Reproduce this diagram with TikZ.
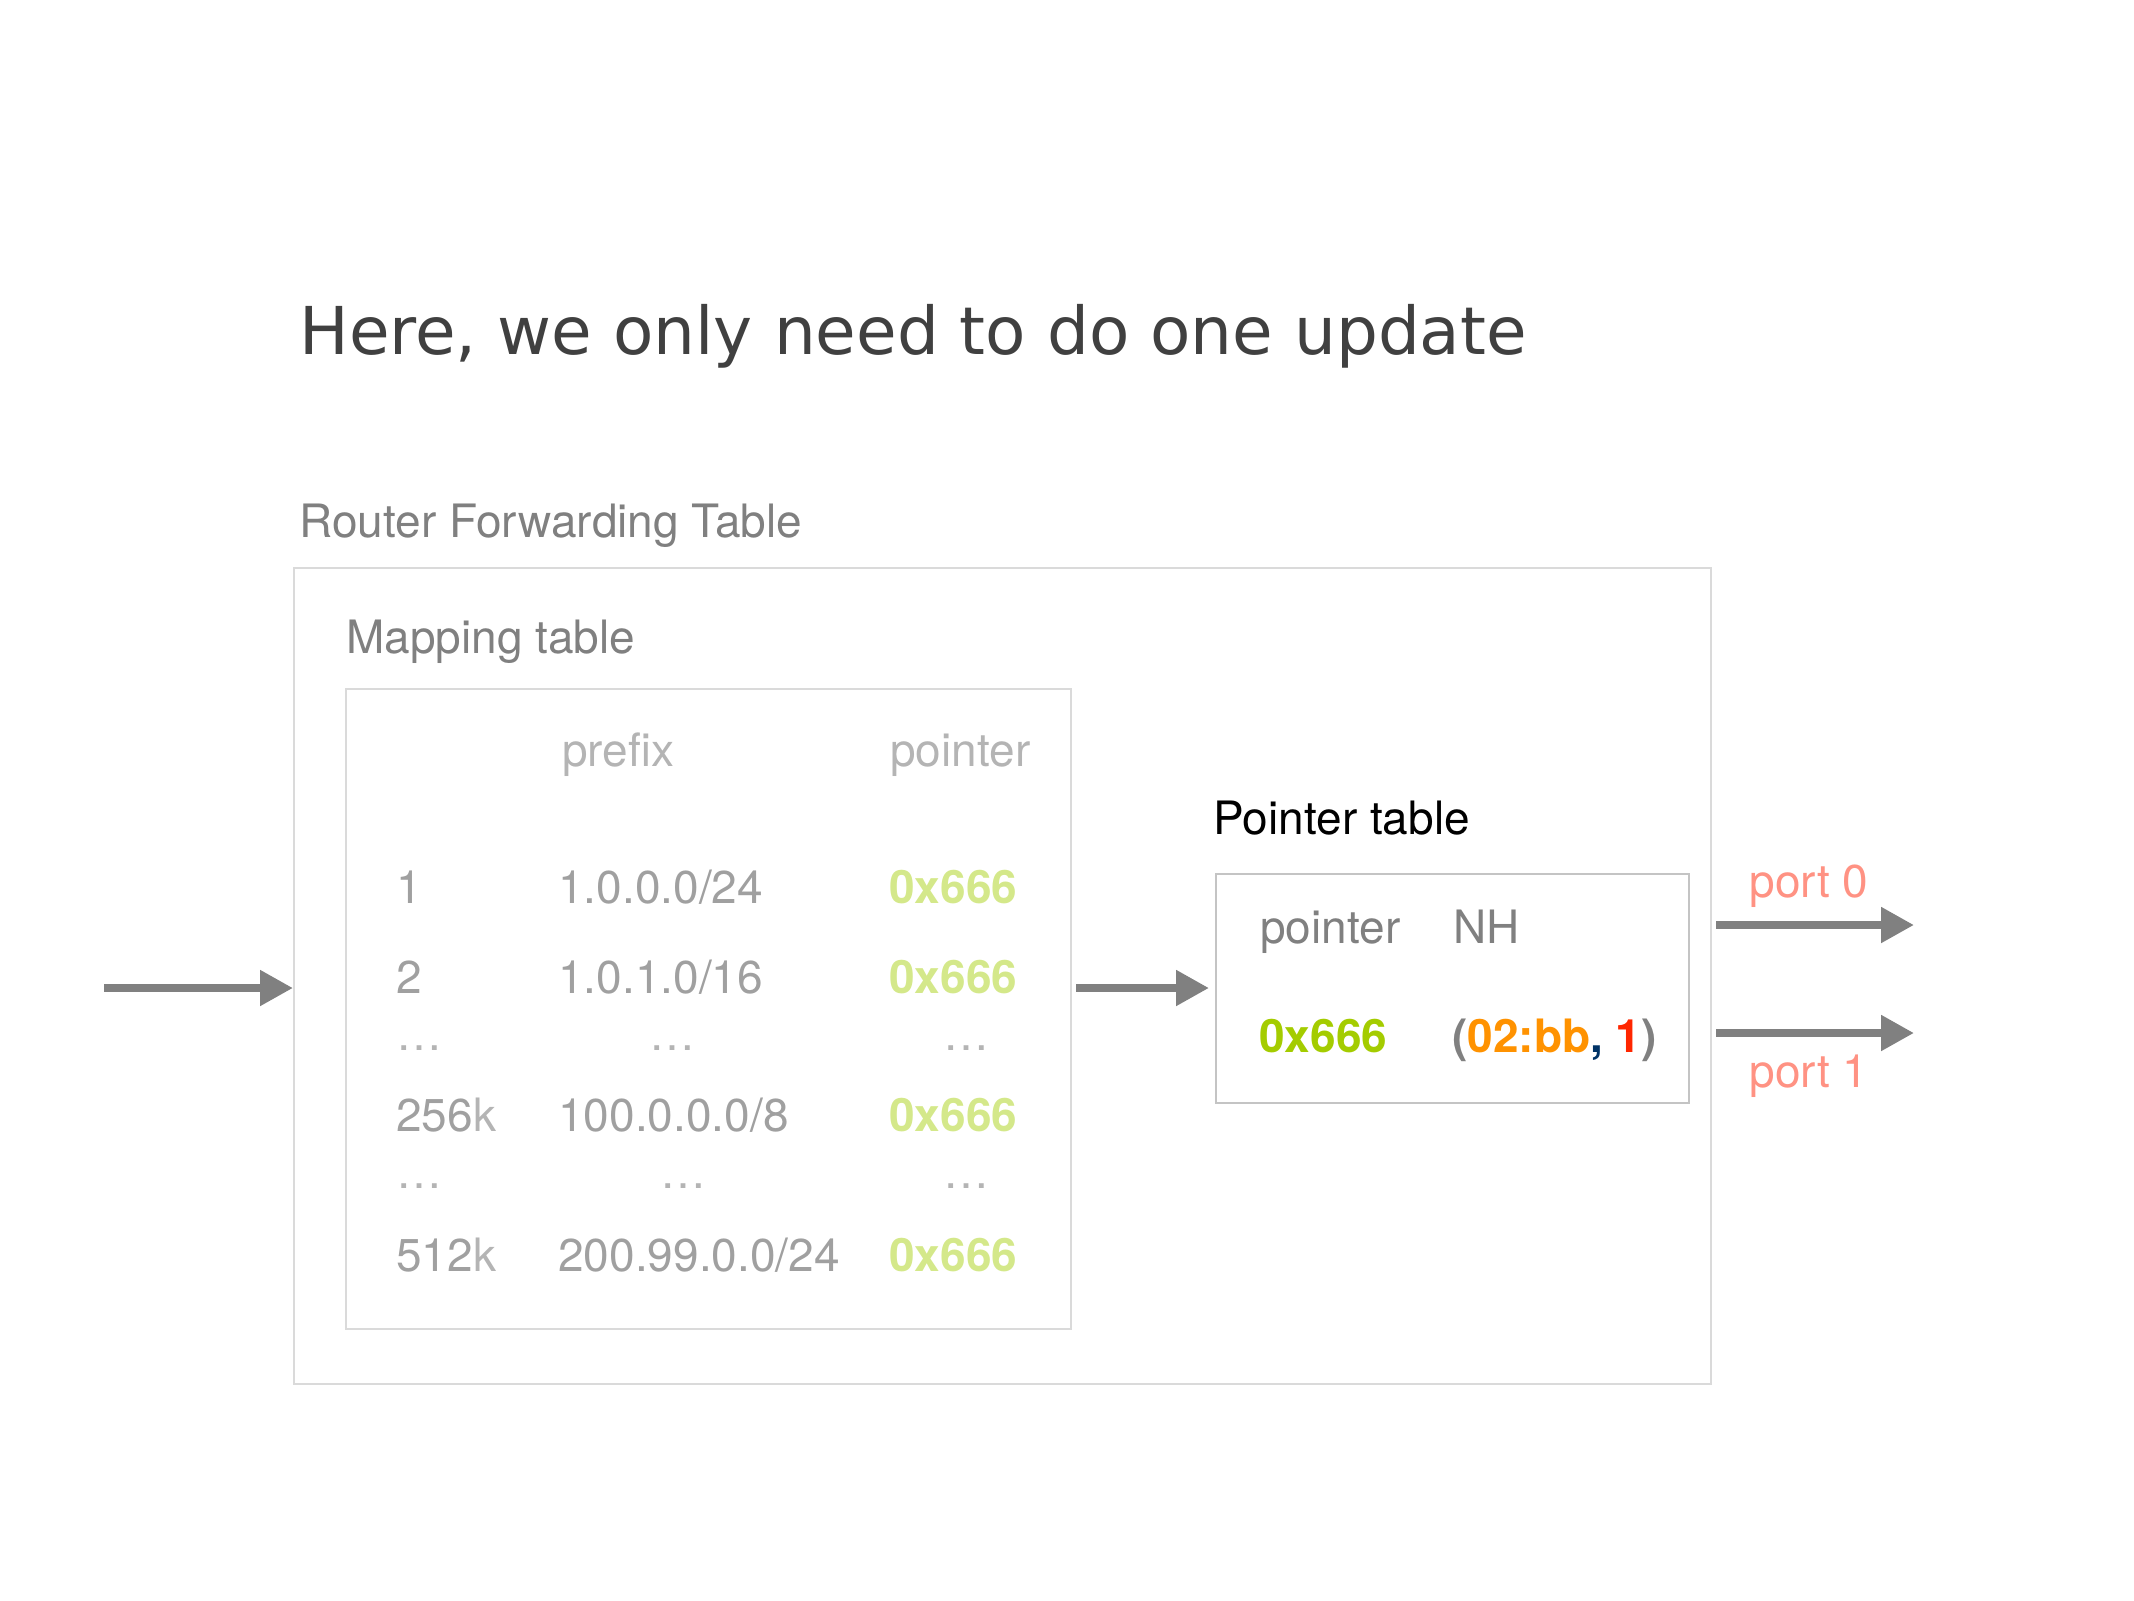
\documentclass[tikz,border=0pt]{standalone}
\usepackage{fontspec}
\setmainfont{TeX Gyre Heros}
\newfontfamily\titlefont{DejaVu Sans}
\usetikzlibrary{arrows.meta,positioning,fit}

\definecolor{titlegray}{HTML}{404040}
\definecolor{labelgray}{HTML}{808080}
\definecolor{entrygray}{HTML}{A0A0A0}
\definecolor{headgray}{HTML}{B4B4B4}
\definecolor{boxgray}{HTML}{DADADA}
\definecolor{ptrboxgray}{HTML}{C4C4C4}
\definecolor{palegreen}{HTML}{D4E88A}
\definecolor{ptrgreen}{HTML}{A4CC00}
\definecolor{macorange}{HTML}{FF9200}
\definecolor{commablue}{HTML}{003366}
\definecolor{portred}{HTML}{FF2600}
\definecolor{salmon}{HTML}{FF9283}

\begin{document}
\begin{tikzpicture}[x=0.5pt,y=-0.5pt] % one unit = one pixel of the slide
\tikzstyle{txt}=[anchor=base west,inner sep=0pt,font=\fontsize{23}{28}\selectfont]
\tikzstyle{entry}=[txt,text=entrygray]
\tikzstyle{head}=[txt,text=headgray]
\tikzstyle{hexptr}=[txt,text=palegreen,font=\fontsize{23}{28}\selectfont\bfseries]
\tikzstyle{frame}=[draw=boxgray,line width=1pt,inner sep=0pt]
\tikzstyle{flow}=[draw=labelgray,line width=4pt,-{Triangle[length=16.5pt,width=17pt]}]

\useasboundingbox (0,0) rectangle (2134,1600);

 \node[txt,text=titlegray,font=\titlefont\fontsize{33}{40}\selectfont] (title) at (299,354)
   {Here, we only need to do one update};

 % forwarding table with the mapping table inside
 \node[txt,text=labelgray] (rfwdlabel) at (299,537) {Router Forwarding Table};
 \node[frame,fit={(294,568) (1711,1384)}] (rfwd) {};
 \node[txt,text=labelgray] (maplabel) at (346,653) {Mapping table};
 \node[frame,fit={(346,689) (1071,1329)}] (map) {};

 \node[head] (hprefix) at (562,766) {prefix};
 \node[head] (hpointer) at (890,766) {pointer};

 \node[entry] (idx1) at (396,903) {1};
 \node[entry] (pfx1) at (558,903) {1.0.0.0/24};
 \node[hexptr] (ptr1) at (889,903) {0x666};
 \node[entry] (idx2) at (396,993) {2};
 \node[entry] (pfx2) at (558,993) {1.0.1.0/16};
 \node[hexptr] (ptr2) at (889,993) {0x666};
 \node[head] (dotsa1) at (396,1050) {…};
 \node[head] (dotsa2) at (649,1050) {…};
 \node[head] (dotsa3) at (943,1050) {…};
 \node[entry] (idx3) at (396,1131) {256\textcolor{headgray}{k}};
 \node[entry] (pfx3) at (558,1131) {100.0.0.0/8};
 \node[hexptr] (ptr3) at (889,1131) {0x666};
 \node[head] (dotsb1) at (396,1188) {…};
 \node[head] (dotsb2) at (660,1188) {…};
 \node[head] (dotsb3) at (943,1188) {…};
 \node[entry] (idx4) at (396,1271) {512\textcolor{headgray}{k}};
 \node[entry] (pfx4) at (558,1271) {200.99.0.0/24};
 \node[hexptr] (ptr4) at (889,1271) {0x666};

 % pointer table
 \node[txt] (ptrlabel) at (1213,834) {Pointer table};
 \node[frame,draw=ptrboxgray,fit={(1216,874) (1689,1103)}] (ptr) {};
 \node[txt,text=labelgray] (pthead) at (1260,943) {pointer};
 \node[txt,text=labelgray] (nhhead) at (1453,943) {NH};
 \node[hexptr,text=ptrgreen] (ptval) at (1259,1052) {0x666};
 \node[txt,font=\fontsize{23}{28}\selectfont\bfseries] (nhval) at (1452,1052)
   {\textcolor{labelgray}{(}\textcolor{macorange}{02:bb}\textcolor{commablue}{,}
    \textcolor{portred}{1}\textcolor{labelgray}{)}};

 \node[txt,text=salmon] (port0) at (1749,897) {port 0};
 \node[txt,text=salmon] (port1) at (1749,1087) {port 1};

 \coordinate (src) at (104,988);
 \coordinate (out0) at (1914,925);
 \coordinate (out1) at (1914,1033);

 \draw[flow] (src) -- (src -| rfwd.west);
 \draw[flow,shorten <=2pt,shorten >=3pt] (map.east |- src) -- (ptr.west |- src);
 \draw[flow,shorten <=2pt] (rfwd.east |- out0) -- (out0);
 \draw[flow,shorten <=2pt] (rfwd.east |- out1) -- (out1);
\end{tikzpicture}
\end{document}
